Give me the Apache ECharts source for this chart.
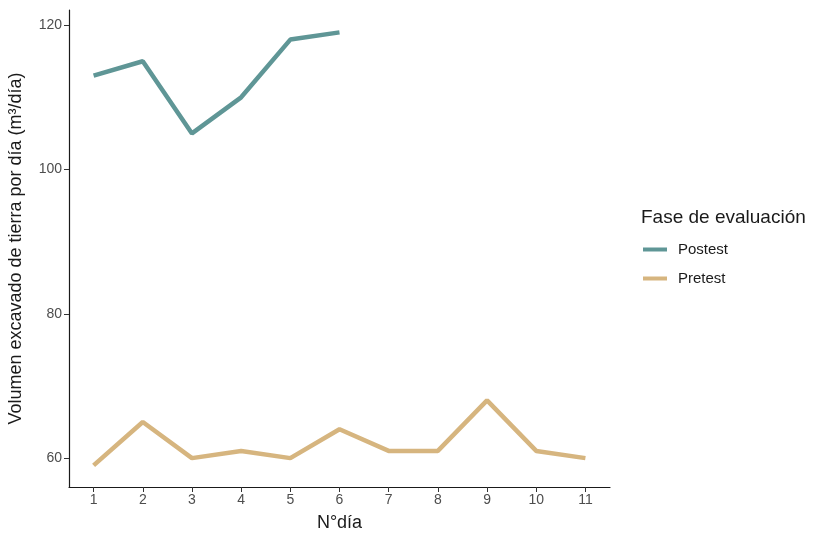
<!DOCTYPE html>
<html>
<head>
<meta charset="utf-8">
<script src="https://cdn.jsdelivr.net/npm/echarts@6/dist/echarts.min.js"></script>
<style>html,body{margin:0;padding:0;background:#fff;}#c{width:817px;height:535px;}</style>
</head>
<body>
<div id="c"></div>
<script>
const days = [1,2,3,4,5,6,7,8,9,10,11];
const postestDays = [1,2,3,4,5,6];
const postest = [113,115,105,110,118,119];
const pretest = [59,65,60,61,60,64,61,61,68,61,60];
const yTicks = [60,80,100,120];
const seriesNames = ['Postest','Pretest'];
const colors = ['#5F9696','#D6B57F'];

const chart = echarts.init(document.getElementById('c'));
const font = 'Liberation Sans, Arial, sans-serif';
chart.setOption({
  animation: false,
  backgroundColor: '#fff',
  textStyle: {fontFamily: font},
  grid: {left: 69, right: 207, top: 10, bottom: 48, containLabel: false, outerBoundsMode: 'none'},
  title: {
    text: 'Fase de evaluación', left: 636, top: 203,
    textStyle: {fontSize: 19, fontWeight: 'normal', color: '#1a1a1a', fontFamily: font}
  },
  legend: {
    orient: 'vertical', left: 638, top: 237, itemGap: 14,
    itemWidth: 24, itemHeight: 4, icon: 'rect',
    data: seriesNames,
    textStyle: {fontSize: 15, color: '#1a1a1a', fontFamily: font, padding: [0,0,0,6]}
  },
  xAxis: {
    type: 'value', min: 0.5, max: 11.5,
    name: 'N°día', nameLocation: 'middle', nameGap: 27,
    nameTextStyle: {fontSize: 18, color: '#1a1a1a'},
    axisLine: {show: true, lineStyle: {color: '#1a1a1a', width: 1.2}},
    axisTick: {show: true, length: 5, customValues: days, lineStyle: {color: '#333'}},
    axisLabel: {customValues: days, color: '#4d4d4d', fontSize: 14, margin: 6},
    splitLine: {show: false}
  },
  yAxis: {
    type: 'value', min: 56, max: 122.1,
    name: 'Volumen excavado de tierra por día (m³/día)', nameLocation: 'middle', nameGap: 44,
    nameTextStyle: {fontSize: 18, color: '#1a1a1a'},
    axisLine: {show: true, lineStyle: {color: '#1a1a1a', width: 1.2}},
    axisTick: {show: true, length: 5, customValues: yTicks, lineStyle: {color: '#333'}},
    axisLabel: {customValues: yTicks, color: '#4d4d4d', fontSize: 14, margin: 7},
    splitLine: {show: false}
  },
  series: [
    {name: seriesNames[0], type: 'line', showSymbol: false, symbol: 'none',
     data: postestDays.map((d,i)=>[d, postest[i]]),
     lineStyle: {color: colors[0], width: 4.5}, itemStyle: {color: colors[0]}},
    {name: seriesNames[1], type: 'line', showSymbol: false, symbol: 'none',
     data: days.map((d,i)=>[d, pretest[i]]),
     lineStyle: {color: colors[1], width: 4.5}, itemStyle: {color: colors[1]}}
  ]
});
</script>
</body>
</html>
